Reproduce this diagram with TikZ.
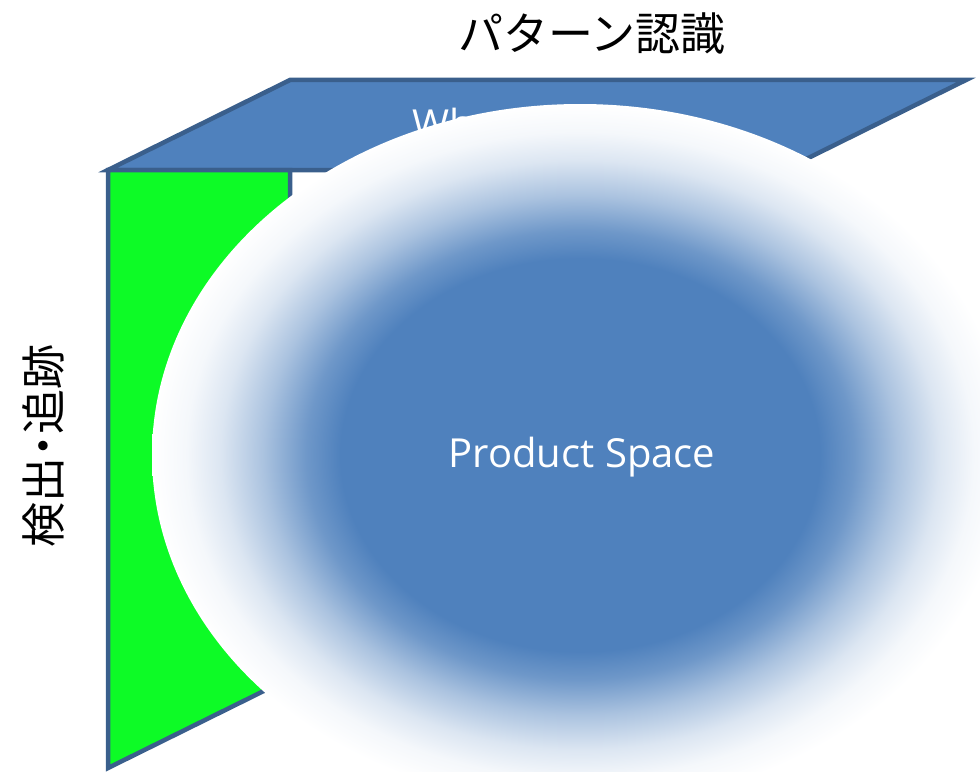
\documentclass[tikz,border=0pt]{standalone}
\usepackage{fontspec}
\setmainfont{Open Sans}
\newfontfamily\jpfont{Noto Sans CJK JP}
\definecolor{psblue}{HTML}{4F81BD}
\definecolor{psline}{HTML}{3A5F8C}
\definecolor{psgreen}{HTML}{0DFB26}
\pgfdeclareradialshading{psshade}{\pgfpoint{0bp}{0bp}}{%
  color(0bp)=(psblue); color(14bp)=(psblue); color(16bp)=(psblue!82!white);
  color(18.5bp)=(psblue!48!white); color(21bp)=(psblue!20!white);
  color(23bp)=(psblue!6!white); color(25bp)=(white); color(50bp)=(white)}
\tikzset{
  face/.style={draw=psline, line width=4.5bp, line join=miter},
  jplabel/.style={font=\jpfont\fontsize{45bp}{50bp}\selectfont, text=black, inner sep=0pt},
  whitelabel/.style={font=\fontsize{40bp}{46bp}\selectfont, text=white, inner sep=0pt},
}
\begin{document}
\begin{tikzpicture}[x=1bp,y=-1bp]
\useasboundingbox (0,0) rectangle (980,772);
% top face
\path[face, fill=psblue] (108,170) -- (290,80) -- (966,80) -- (784,170) -- cycle;
\node[whitelabel, anchor=base west] (wh) at (412,138) {Wh};
% left face
\path[face, fill=psgreen] (108,170) -- (290,170) -- (290,678) -- (108,768) -- cycle;
% product space
\path[shading=psshade] (580,455) ellipse [x radius=428, y radius=351];
\node[whitelabel] (ps) at (582,457) {Product Space};
% labels
\node[jplabel] (pr) at (592,34) {パターン認識};
\node[jplabel, rotate=90] (dt) at (43,446) {検出\kern-0.25em・\kern-0.25em追跡};
\end{tikzpicture}
\end{document}
